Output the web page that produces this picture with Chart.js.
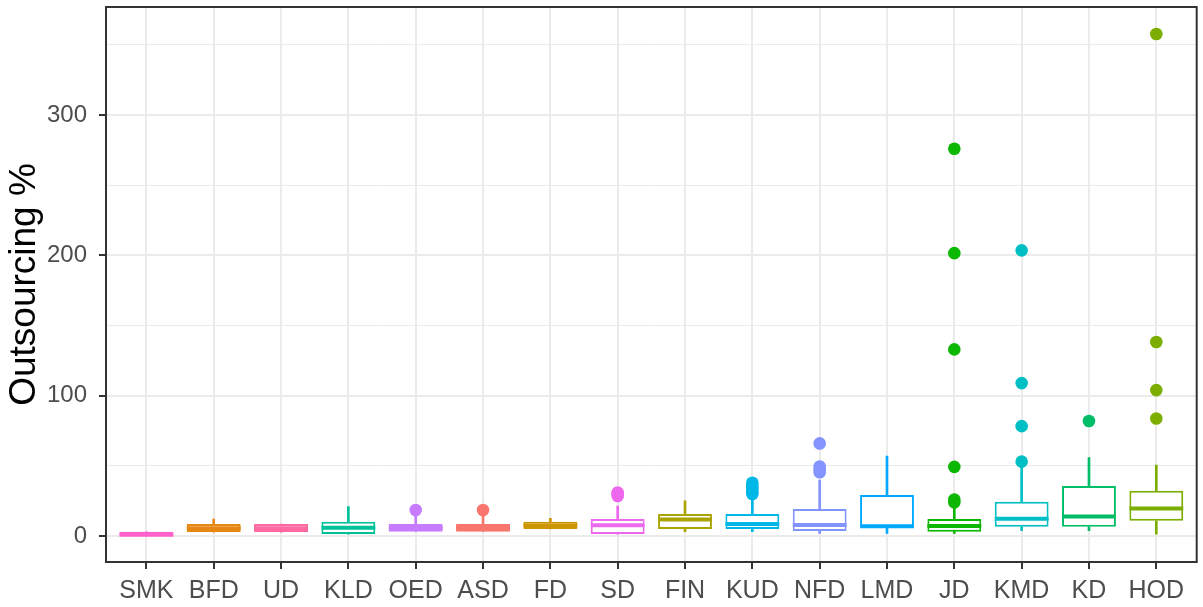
<!DOCTYPE html>
<html>
<head>
<meta charset="utf-8">
<script src="https://cdn.jsdelivr.net/npm/chart.js@4.4.1/dist/chart.umd.min.js"></script>
<style>
  html, body { margin: 0; padding: 0; background: #ffffff; }
  #wrap { width: 1203px; height: 607px; }
</style>
</head>
<body>
<div id="wrap"><canvas id="chart" width="1203" height="607"></canvas></div>
<script>
// Outsourcing % by department: five-number summaries plus outliers
const categories = ['SMK', 'BFD', 'UD', 'KLD', 'OED', 'ASD', 'FD', 'SD', 'FIN', 'KUD', 'NFD', 'LMD', 'JD', 'KMD', 'KD', 'HOD'];
const whiskerLow  = [0,   2.8, 2.8, 1.4, 3.1, 3.1, 5.0,  1.4,  3.1,  3.1,  1.9,  1.9,  1.9,  3.8,  3.8,  1.4];
const quartile1   = [0,   2.8, 2.8, 1.4, 3.1, 3.1, 5.0,  1.4,  5.0,  5.0,  3.6,  5.9,  3.1,  6.6,  6.6,  10.9];
const medians     = [1,   5.5, 5.5, 5.9, 5.8, 5.8, 7.5,  7.6,  11.7, 8.5,  7.8,  7.0,  7.1,  12.3, 14.0, 19.7];
const quartile3   = [3,   8.5, 8.5, 10.2, 8.5, 8.5, 10.2, 12.1, 15.7, 15.7, 19.2, 29.2, 12.1, 24.4, 35.6, 32.3];
const whiskerHigh = [3,   12,  8.5, 21,  15,  15,  12.6, 21.4, 25.1, 27,   39.9, 57,   20,   49,   56,   50.5];
const outliers = [
  [], [], [], [], [18.5], [18.5], [], [28.5, 30, 31], [], [30, 32, 34, 36, 38],
  [45.5, 47.5, 49.5, 66], [], [24, 26, 49.3, 133, 201.6, 276], [53, 78.3, 109, 203.6], [82], [83.8, 104, 138.3, 357.8]
];
const yTickValues = [0, 50, 100, 150, 200, 250, 300, 350];

// hue palette, one colour per department
const colors = ['#FF61CC', '#E68613', '#FF68A1', '#00C19A', '#C77CFF', '#F8766D', '#CD9600', '#ED68ED',
                '#ABA300', '#00B8E7', '#8494FF', '#00A9FF', '#0CB702', '#00BFC4', '#00BE67', '#7CAE00'];

const boxData = categories.map((c, i) => ({ x: i, y: [quartile1[i], quartile3[i]] }));
const upperWhiskers = categories.map((c, i) => ({ x: i, y: [quartile3[i], whiskerHigh[i]] }));
const lowerWhiskers = categories.map((c, i) => ({ x: i, y: [whiskerLow[i], quartile1[i]] }));
const outlierPoints = [];
const outlierColors = [];
outliers.forEach((list, i) => list.forEach(v => { outlierPoints.push({ x: i, y: v }); outlierColors.push(colors[i]); }));

// median bars drawn across each box, using the box element geometry
const medianPlugin = {
  id: 'medianLines',
  afterDatasetDraw(chart, args) {
    if (args.index !== 0) return;
    const ctx = chart.ctx;
    const yScale = chart.scales.y;
    const meta = chart.getDatasetMeta(0);
    ctx.save();
    meta.data.forEach((bar, i) => {
      const y = yScale.getPixelForValue(medians[i]);
      ctx.strokeStyle = colors[i];
      ctx.lineWidth = 4;
      ctx.beginPath();
      ctx.moveTo(bar.x - bar.width / 2, y);
      ctx.lineTo(bar.x + bar.width / 2, y);
      ctx.stroke();
    });
    ctx.restore();
  }
};

// panel frame on all four sides
const framePlugin = {
  id: 'panelFrame',
  afterDraw(chart) {
    const { ctx, chartArea: a } = chart;
    ctx.save();
    ctx.strokeStyle = '#333333';
    ctx.lineWidth = 2;
    ctx.strokeRect(a.left, a.top, a.right - a.left, a.bottom - a.top);
    ctx.restore();
  }
};

new Chart(document.getElementById('chart'), {
  type: 'bar',
  data: {
    datasets: [
      {
        type: 'bar', data: boxData, grouped: false, order: 0,
        backgroundColor: '#ffffff', borderColor: colors, borderWidth: 2, borderSkipped: false,
        categoryPercentage: 1.0, barPercentage: 0.8
      },
      {
        type: 'scatter', data: outlierPoints, order: 1,
        pointRadius: 6.3, pointHoverRadius: 6.3, pointBorderWidth: 0,
        pointBackgroundColor: outlierColors, pointBorderColor: outlierColors
      },
      {
        type: 'bar', data: upperWhiskers, grouped: false, order: 2,
        backgroundColor: colors, borderWidth: 0, barThickness: 2
      },
      {
        type: 'bar', data: lowerWhiskers, grouped: false, order: 3,
        backgroundColor: colors, borderWidth: 0, barThickness: 2
      }
    ]
  },
  options: {
    responsive: false,
    animation: false,
    events: [],
    layout: { padding: { top: 7, right: 5, left: 0, bottom: 0 } },
    plugins: { legend: { display: false }, tooltip: { enabled: false } },
    scales: {
      x: {
        type: 'linear',
        offset: false,
        min: -0.6, max: categories.length - 0.4,
        afterBuildTicks: s => { s.ticks = categories.map((c, i) => ({ value: i })); },
        afterFit: s => { s.height = 45; s.paddingLeft = 0; s.paddingRight = 0; },
        border: { display: false },
        grid: { offset: false, color: '#EBEBEB', lineWidth: 2, tickColor: '#333333', tickWidth: 2, tickLength: 7 },
        ticks: {
          autoSkip: false, maxRotation: 0, padding: 7,
          color: '#4D4D4D',
          font: { family: 'Liberation Sans, Arial, sans-serif', size: 25 },
          callback: v => categories[v]
        }
      },
      y: {
        type: 'linear',
        min: -18.5, max: 377,
        afterBuildTicks: s => { s.ticks = yTickValues.map(v => ({ value: v })); },
        afterFit: s => { s.width = 106; s.paddingTop = 0; s.paddingBottom = 0; },
        border: { display: false },
        grid: {
          color: '#EBEBEB',
          lineWidth: c => (c.tick && c.tick.value % 100 === 0 ? 2 : 1),
          tickColor: c => (c.tick && c.tick.value % 100 === 0 ? '#333333' : 'rgba(0,0,0,0)'),
          tickWidth: 2, tickLength: 7
        },
        ticks: {
          padding: 12,
          color: '#4D4D4D',
          font: { family: 'Liberation Sans, Arial, sans-serif', size: 24 },
          callback: v => (v % 100 === 0 ? String(v) : '')
        },
        title: {
          display: true, text: 'Outsourcing %', color: '#000000',
          font: { family: 'Liberation Sans, Arial, sans-serif', size: 37 },
          padding: { top: 3, bottom: 0 }
        }
      }
    }
  },
  plugins: [medianPlugin, framePlugin]
});
</script>
</body>
</html>
